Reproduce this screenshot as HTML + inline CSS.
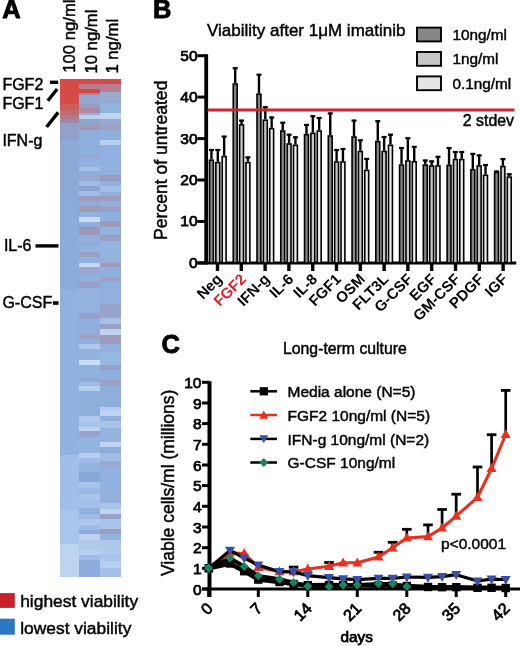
<!DOCTYPE html>
<html><head><meta charset="utf-8"><style>
html,body{margin:0;padding:0;background:#fff;}
body{width:520px;height:646px;overflow:hidden;}
svg{display:block;font-family:"Liberation Sans", sans-serif;filter:blur(0.4px);}
text{stroke-width:0.45px;}
text.pl{stroke-width:0.9px !important;}
text.tk{stroke-width:0.75px;}
</style></head><body>
<svg width="520" height="646" viewBox="0 0 520 646" stroke-width="0">
<rect width="520" height="646" fill="#fff"/>
<text x="2.3" y="18.4" font-size="25.5" font-weight="bold" style="stroke-width:0" stroke="#000" class="pl">A</text>
<text transform="translate(75.3,72.8) rotate(-90)" font-size="16.7" stroke="#000">100 ng/ml</text>
<text transform="translate(96.9,73.6) rotate(-90)" font-size="16.7" stroke="#000">10 ng/ml</text>
<text transform="translate(118.0,73.6) rotate(-90)" font-size="16.7" stroke="#000">1 ng/ml</text>
<g shape-rendering="crispEdges">
<rect x="60.3" y="79.3" width="19.00" height="25.10" fill="#d64a48"/>
<rect x="60.3" y="104.4" width="19.00" height="5.60" fill="#cc5c5e"/>
<rect x="60.3" y="110" width="19.00" height="5.30" fill="#c06a72"/>
<rect x="60.3" y="115.3" width="19.00" height="3.70" fill="#b07a8c"/>
<rect x="60.3" y="119" width="19.00" height="4.00" fill="#a088a4"/>
<rect x="60.3" y="123" width="19.00" height="17.00" fill="#94a0c8"/>
<rect x="60.3" y="140" width="19.00" height="60.00" fill="#8ea8d8"/>
<rect x="60.3" y="200" width="19.00" height="90.00" fill="#8cacdc"/>
<rect x="60.3" y="290" width="19.00" height="165.00" fill="#91b1e1"/>
<rect x="60.3" y="455" width="19.00" height="55.00" fill="#a0bee8"/>
<rect x="60.3" y="510" width="19.00" height="33.60" fill="#a8c6ec"/>
<rect x="60.3" y="543.6" width="19.00" height="33.10" fill="#bcd4f0"/>
<rect x="79.3" y="79.3" width="20.70" height="4.20" fill="#d44a4a"/>
<rect x="79.3" y="83.5" width="20.70" height="5.50" fill="#b87c8a"/>
<rect x="79.3" y="89" width="20.70" height="3.80" fill="#d04848"/>
<rect x="79.3" y="92.8" width="20.70" height="2.20" fill="#b08494"/>
<rect x="79.3" y="95" width="20.70" height="9.40" fill="#93a8d4"/>
<rect x="79.3" y="104.4" width="20.70" height="3.90" fill="#a09bbc"/>
<rect x="79.3" y="108.3" width="20.70" height="4.70" fill="#af88a3"/>
<rect x="79.3" y="113" width="20.70" height="1.50" fill="#9aaed8"/>
<rect x="79.3" y="114.5" width="20.70" height="4.60" fill="#bccfec"/>
<rect x="79.3" y="119.1" width="20.70" height="5.50" fill="#90a4cc"/>
<rect x="79.3" y="124.6" width="20.70" height="5.40" fill="#a596b2"/>
<rect x="79.3" y="130" width="20.70" height="4.00" fill="#96aad6"/>
<rect x="79.3" y="134" width="20.70" height="20.50" fill="#8eb0de"/>
<rect x="79.3" y="154.5" width="20.70" height="4.00" fill="#98a8d0"/>
<rect x="79.3" y="158.5" width="20.70" height="8.10" fill="#90b2e0"/>
<rect x="79.3" y="166.6" width="20.70" height="4.00" fill="#a0c0e8"/>
<rect x="79.3" y="170.6" width="20.70" height="5.40" fill="#8cacdc"/>
<rect x="79.3" y="176" width="20.70" height="4.80" fill="#96a8d0"/>
<rect x="79.3" y="180.8" width="20.70" height="4.70" fill="#a0bce6"/>
<rect x="79.3" y="185.5" width="20.70" height="5.50" fill="#8ca6d4"/>
<rect x="79.3" y="191" width="20.70" height="5.30" fill="#a0bce6"/>
<rect x="79.3" y="196.3" width="20.70" height="4.70" fill="#a09bbc"/>
<rect x="79.3" y="201" width="20.70" height="5.40" fill="#90acdc"/>
<rect x="79.3" y="206.4" width="20.70" height="5.40" fill="#a09bb4"/>
<rect x="79.3" y="211.8" width="20.70" height="4.70" fill="#94b0de"/>
<rect x="79.3" y="216.5" width="20.70" height="5.40" fill="#c8dcf4"/>
<rect x="79.3" y="221.9" width="20.70" height="5.40" fill="#90acd8"/>
<rect x="79.3" y="227.3" width="20.70" height="7.70" fill="#9d98b9"/>
<rect x="79.3" y="235" width="20.70" height="6.20" fill="#98b0dc"/>
<rect x="79.3" y="241.2" width="20.70" height="4.70" fill="#8cacdc"/>
<rect x="79.3" y="245.9" width="20.70" height="6.10" fill="#94b4e0"/>
<rect x="79.3" y="252" width="20.70" height="4.70" fill="#9ba0c6"/>
<rect x="79.3" y="256.7" width="20.70" height="6.20" fill="#90b0e0"/>
<rect x="79.3" y="262.9" width="20.70" height="4.40" fill="#c4d8f2"/>
<rect x="79.3" y="267.3" width="20.70" height="7.00" fill="#98a8d0"/>
<rect x="79.3" y="274.3" width="20.70" height="7.70" fill="#90b0e0"/>
<rect x="79.3" y="282" width="20.70" height="6.20" fill="#98a0c8"/>
<rect x="79.3" y="288.2" width="20.70" height="24.80" fill="#92b2e0"/>
<rect x="79.3" y="313" width="20.70" height="6.20" fill="#98a0c8"/>
<rect x="79.3" y="319.2" width="20.70" height="10.80" fill="#8cb0e0"/>
<rect x="79.3" y="330" width="20.70" height="4.70" fill="#98acd8"/>
<rect x="79.3" y="334.7" width="20.70" height="4.60" fill="#a0a0c0"/>
<rect x="79.3" y="339.3" width="20.70" height="4.70" fill="#90b0e0"/>
<rect x="79.3" y="344" width="20.70" height="5.40" fill="#b0c8ec"/>
<rect x="79.3" y="349.4" width="20.70" height="10.10" fill="#92b2de"/>
<rect x="79.3" y="359.5" width="20.70" height="5.10" fill="#c8dcf4"/>
<rect x="79.3" y="364.6" width="20.70" height="12.40" fill="#92b2de"/>
<rect x="79.3" y="377" width="20.70" height="4.70" fill="#8cacd8"/>
<rect x="79.3" y="381.7" width="20.70" height="3.80" fill="#a0bce6"/>
<rect x="79.3" y="385.5" width="20.70" height="5.50" fill="#b8d0f0"/>
<rect x="79.3" y="391" width="20.70" height="24.80" fill="#8eaedc"/>
<rect x="79.3" y="415.8" width="20.70" height="6.20" fill="#b0c8ec"/>
<rect x="79.3" y="422" width="20.70" height="4.60" fill="#a8c4ea"/>
<rect x="79.3" y="426.6" width="20.70" height="4.60" fill="#bcd4f2"/>
<rect x="79.3" y="431.2" width="20.70" height="5.50" fill="#98a4cc"/>
<rect x="79.3" y="436.7" width="20.70" height="16.30" fill="#94b4e0"/>
<rect x="79.3" y="453" width="20.70" height="5.00" fill="#b8d0f0"/>
<rect x="79.3" y="458" width="20.70" height="4.70" fill="#a0bce6"/>
<rect x="79.3" y="462.7" width="20.70" height="9.30" fill="#94b4e0"/>
<rect x="79.3" y="472" width="20.70" height="10.00" fill="#88a8d8"/>
<rect x="79.3" y="482" width="20.70" height="6.30" fill="#a8c4ea"/>
<rect x="79.3" y="488.3" width="20.70" height="5.40" fill="#9cb8e4"/>
<rect x="79.3" y="493.7" width="20.70" height="6.20" fill="#a8c4ea"/>
<rect x="79.3" y="499.9" width="20.70" height="8.50" fill="#a4c0e8"/>
<rect x="79.3" y="508.4" width="20.70" height="5.50" fill="#90b0dc"/>
<rect x="79.3" y="513.9" width="20.70" height="4.80" fill="#a0bce6"/>
<rect x="79.3" y="518.7" width="20.70" height="6.10" fill="#b0c8ec"/>
<rect x="79.3" y="524.8" width="20.70" height="4.70" fill="#a0bce6"/>
<rect x="79.3" y="529.5" width="20.70" height="4.10" fill="#8cacdc"/>
<rect x="79.3" y="533.6" width="20.70" height="6.00" fill="#bcd4f0"/>
<rect x="79.3" y="539.6" width="20.70" height="10.80" fill="#b0c8ec"/>
<rect x="79.3" y="550.4" width="20.70" height="4.60" fill="#b8d0f0"/>
<rect x="79.3" y="555" width="20.70" height="4.80" fill="#a0bce6"/>
<rect x="79.3" y="559.8" width="20.70" height="16.90" fill="#8cacdc"/>
<rect x="100.0" y="79.3" width="20.90" height="4.20" fill="#d44a4a"/>
<rect x="100.0" y="83.5" width="20.90" height="8.50" fill="#b8808e"/>
<rect x="100.0" y="92" width="20.90" height="10.90" fill="#98aacc"/>
<rect x="100.0" y="102.9" width="20.90" height="10.10" fill="#90b4e0"/>
<rect x="100.0" y="113" width="20.90" height="6.10" fill="#c0d4ef"/>
<rect x="100.0" y="119.1" width="20.90" height="5.90" fill="#94a8d0"/>
<rect x="100.0" y="125" width="20.90" height="5.00" fill="#a0a0c3"/>
<rect x="100.0" y="130" width="20.90" height="10.00" fill="#8eb0dc"/>
<rect x="100.0" y="140" width="20.90" height="4.70" fill="#b8d0ee"/>
<rect x="100.0" y="144.7" width="20.90" height="29.90" fill="#90b0e0"/>
<rect x="100.0" y="174.6" width="20.90" height="6.20" fill="#9b9bc1"/>
<rect x="100.0" y="180.8" width="20.90" height="4.70" fill="#90b0dc"/>
<rect x="100.0" y="185.5" width="20.90" height="6.20" fill="#a0c0ea"/>
<rect x="100.0" y="191.7" width="20.90" height="4.60" fill="#94b0dc"/>
<rect x="100.0" y="196.3" width="20.90" height="4.70" fill="#a09bbc"/>
<rect x="100.0" y="201" width="20.90" height="5.40" fill="#94b0dc"/>
<rect x="100.0" y="206.4" width="20.90" height="5.40" fill="#9ba0c6"/>
<rect x="100.0" y="211.8" width="20.90" height="9.20" fill="#90b0e0"/>
<rect x="100.0" y="221" width="20.90" height="5.50" fill="#9b9bbc"/>
<rect x="100.0" y="226.5" width="20.90" height="8.50" fill="#94b4e0"/>
<rect x="100.0" y="235" width="20.90" height="6.20" fill="#9ba0c6"/>
<rect x="100.0" y="241.2" width="20.90" height="15.50" fill="#94b4e0"/>
<rect x="100.0" y="256.7" width="20.90" height="6.20" fill="#98b0d8"/>
<rect x="100.0" y="262.9" width="20.90" height="4.40" fill="#a09bbc"/>
<rect x="100.0" y="267.3" width="20.90" height="10.10" fill="#90b0e0"/>
<rect x="100.0" y="277.4" width="20.90" height="4.60" fill="#a0a0c4"/>
<rect x="100.0" y="282" width="20.90" height="21.70" fill="#90b0e0"/>
<rect x="100.0" y="303.7" width="20.90" height="13.90" fill="#98a4cc"/>
<rect x="100.0" y="317.6" width="20.90" height="6.20" fill="#a8c0e8"/>
<rect x="100.0" y="323.8" width="20.90" height="5.50" fill="#9ba0c6"/>
<rect x="100.0" y="329.3" width="20.90" height="5.40" fill="#c0d4f0"/>
<rect x="100.0" y="334.7" width="20.90" height="9.30" fill="#a09bbc"/>
<rect x="100.0" y="344" width="20.90" height="7.70" fill="#94b0dc"/>
<rect x="100.0" y="351.7" width="20.90" height="13.70" fill="#98b8e4"/>
<rect x="100.0" y="365.4" width="20.90" height="4.60" fill="#98a0c8"/>
<rect x="100.0" y="370" width="20.90" height="10.00" fill="#90b0e0"/>
<rect x="100.0" y="380" width="20.90" height="5.50" fill="#9ca0c4"/>
<rect x="100.0" y="385.5" width="20.90" height="21.00" fill="#8eaedc"/>
<rect x="100.0" y="406.5" width="20.90" height="4.50" fill="#b4ccee"/>
<rect x="100.0" y="411" width="20.90" height="4.80" fill="#c0d4f0"/>
<rect x="100.0" y="415.8" width="20.90" height="5.40" fill="#90b0e0"/>
<rect x="100.0" y="421.2" width="20.90" height="6.80" fill="#a8c4ea"/>
<rect x="100.0" y="428" width="20.90" height="14.00" fill="#94b4e0"/>
<rect x="100.0" y="442" width="20.90" height="4.70" fill="#c0d4f0"/>
<rect x="100.0" y="446.7" width="20.90" height="6.20" fill="#8cacdc"/>
<rect x="100.0" y="452.9" width="20.90" height="8.10" fill="#a0bce6"/>
<rect x="100.0" y="461" width="20.90" height="6.40" fill="#98a8d0"/>
<rect x="100.0" y="467.4" width="20.90" height="20.10" fill="#90b0e0"/>
<rect x="100.0" y="487.5" width="20.90" height="15.50" fill="#94b0dc"/>
<rect x="100.0" y="503" width="20.90" height="6.20" fill="#a8c4ea"/>
<rect x="100.0" y="509.2" width="20.90" height="4.70" fill="#c0d4f0"/>
<rect x="100.0" y="513.9" width="20.90" height="4.80" fill="#98a0c8"/>
<rect x="100.0" y="518.7" width="20.90" height="10.10" fill="#a8c4ea"/>
<rect x="100.0" y="528.8" width="20.90" height="5.40" fill="#98a0c4"/>
<rect x="100.0" y="534.2" width="20.90" height="5.40" fill="#94b4e0"/>
<rect x="100.0" y="539.6" width="20.90" height="14.80" fill="#b0c8ec"/>
<rect x="100.0" y="554.4" width="20.90" height="6.70" fill="#a8c4ea"/>
<rect x="100.0" y="561.1" width="20.90" height="6.80" fill="#b8d0f0"/>
<rect x="100.0" y="567.9" width="20.90" height="8.80" fill="#a4c0e8"/>
</g>
<text x="2.4" y="90.2" font-size="16" stroke="#000">FGF2</text>
<text x="2.4" y="108.9" font-size="16" stroke="#000">FGF1</text>
<text x="2.4" y="145.6" font-size="16" stroke="#000">IFN-g</text>
<text x="3.9" y="251.2" font-size="16" stroke="#000">IL-6</text>
<text x="2.4" y="308.3" font-size="16" stroke="#000">G-CSF</text>
<g stroke="#000" stroke-width="3.4" stroke-linecap="butt">
<line x1="50" y1="82.3" x2="58.2" y2="82.3"/>
<line x1="47.8" y1="100.8" x2="57.2" y2="89"/>
<line x1="46.6" y1="127" x2="58.2" y2="112.4"/>
<line x1="35.5" y1="245.9" x2="58.5" y2="245.9"/>
<line x1="52.9" y1="303" x2="58.5" y2="303" stroke-width="3.6"/>
</g>
<rect x="0" y="593.1" width="14.8" height="14.8" fill="#c8202c"/>
<rect x="0" y="618.7" width="14.8" height="16" fill="#2a78c2"/>
<text x="20.2" y="607.1" font-size="17.4" stroke="#000">highest viability</text>
<text x="20.2" y="633.5" font-size="17.4" stroke="#000">lowest viability</text>
<text x="153.0" y="18.0" font-size="25.5" font-weight="bold" style="stroke-width:0" stroke="#000" class="pl">B</text>
<text x="207.0" y="35.6" font-size="17" stroke="#000">Viability after 1μM imatinib</text>
<rect x="417" y="27.6" width="24" height="13.8" fill="#878787" stroke="#000" stroke-width="1.9"/>
<text x="452.4" y="39.8" font-size="15.3" stroke="#000">10ng/ml</text>
<rect x="417" y="52.0" width="24" height="13.8" fill="#c6c6c6" stroke="#000" stroke-width="1.9"/>
<text x="452.4" y="64.4" font-size="15.3" stroke="#000">1ng/ml</text>
<rect x="417" y="76.4" width="24" height="13.8" fill="#e4e4e2" stroke="#000" stroke-width="1.9"/>
<text x="452.4" y="89.0" font-size="15.3" stroke="#000">0.1ng/ml</text>
<g stroke="#000" stroke-width="3">
<line x1="206.2" y1="54.2" x2="206.2" y2="264.4" stroke-width="3.8"/>
<line x1="197.3" y1="262.9" x2="206" y2="262.9"/>
<line x1="197.3" y1="221.5" x2="206" y2="221.5"/>
<line x1="197.3" y1="180.0" x2="206" y2="180.0"/>
<line x1="197.3" y1="138.6" x2="206" y2="138.6"/>
<line x1="197.3" y1="97.1" x2="206" y2="97.1"/>
<line x1="197.3" y1="55.7" x2="206" y2="55.7"/>
<line x1="197.3" y1="262.9" x2="516.3" y2="262.9"/>
<line x1="217.5" y1="262.9" x2="217.5" y2="271" stroke-width="3.4"/>
<line x1="241.3" y1="262.9" x2="241.3" y2="271" stroke-width="3.4"/>
<line x1="265.1" y1="262.9" x2="265.1" y2="271" stroke-width="3.4"/>
<line x1="288.9" y1="262.9" x2="288.9" y2="271" stroke-width="3.4"/>
<line x1="312.7" y1="262.9" x2="312.7" y2="271" stroke-width="3.4"/>
<line x1="336.5" y1="262.9" x2="336.5" y2="271" stroke-width="3.4"/>
<line x1="360.3" y1="262.9" x2="360.3" y2="271" stroke-width="3.4"/>
<line x1="384.1" y1="262.9" x2="384.1" y2="271" stroke-width="3.4"/>
<line x1="407.9" y1="262.9" x2="407.9" y2="271" stroke-width="3.4"/>
<line x1="431.7" y1="262.9" x2="431.7" y2="271" stroke-width="3.4"/>
<line x1="455.5" y1="262.9" x2="455.5" y2="271" stroke-width="3.4"/>
<line x1="479.3" y1="262.9" x2="479.3" y2="271" stroke-width="3.4"/>
<line x1="503.1" y1="262.9" x2="503.1" y2="271" stroke-width="3.4"/>
</g>
<text x="197.6" y="267.8" font-size="15.5" text-anchor="end" stroke="#000" class="tk">0</text>
<text x="197.6" y="226.4" font-size="15.5" text-anchor="end" stroke="#000" class="tk">10</text>
<text x="197.6" y="184.9" font-size="15.5" text-anchor="end" stroke="#000" class="tk">20</text>
<text x="197.6" y="143.5" font-size="15.5" text-anchor="end" stroke="#000" class="tk">30</text>
<text x="197.6" y="102.0" font-size="15.5" text-anchor="end" stroke="#000" class="tk">40</text>
<text x="197.6" y="60.6" font-size="15.5" text-anchor="end" stroke="#000" class="tk">50</text>
<text transform="translate(166.5,240.0) rotate(-90)" font-size="17.6" stroke="#000">Percent of untreated</text>
<g stroke="#000" stroke-width="1.6">
<line x1="211.45" y1="159.4" x2="211.45" y2="149.2" stroke-width="2.4"/>
<line x1="208.95" y1="150.0" x2="213.95" y2="150.0" stroke-width="2.2"/>
<rect x="209.50" y="160.2" width="3.90" height="102.7" fill="#858585"/>
<line x1="217.80" y1="161.8" x2="217.80" y2="149.2" stroke-width="2.4"/>
<line x1="215.30" y1="150.0" x2="220.30" y2="150.0" stroke-width="2.2"/>
<rect x="215.85" y="162.6" width="3.90" height="100.3" fill="#c8c8c8"/>
<line x1="224.15" y1="155.7" x2="224.15" y2="135.8" stroke-width="2.4"/>
<line x1="221.65" y1="136.6" x2="226.65" y2="136.6" stroke-width="2.2"/>
<rect x="222.20" y="156.5" width="3.90" height="106.4" fill="#ededed"/>
<line x1="235.21" y1="83.2" x2="235.21" y2="67.4" stroke-width="2.4"/>
<line x1="232.71" y1="68.2" x2="237.71" y2="68.2" stroke-width="2.2"/>
<rect x="233.26" y="84.0" width="3.90" height="178.9" fill="#858585"/>
<line x1="241.56" y1="124.1" x2="241.56" y2="119.8" stroke-width="2.4"/>
<line x1="239.06" y1="120.6" x2="244.06" y2="120.6" stroke-width="2.2"/>
<rect x="239.61" y="124.9" width="3.90" height="138.0" fill="#c8c8c8"/>
<line x1="247.91" y1="161.8" x2="247.91" y2="156.6" stroke-width="2.4"/>
<line x1="245.41" y1="157.4" x2="250.41" y2="157.4" stroke-width="2.2"/>
<rect x="245.96" y="162.6" width="3.90" height="100.3" fill="#ededed"/>
<line x1="258.97" y1="93.4" x2="258.97" y2="73.9" stroke-width="2.4"/>
<line x1="256.47" y1="74.7" x2="261.47" y2="74.7" stroke-width="2.2"/>
<rect x="257.02" y="94.2" width="3.90" height="168.7" fill="#858585"/>
<line x1="265.32" y1="119.4" x2="265.32" y2="106.4" stroke-width="2.4"/>
<line x1="262.82" y1="107.2" x2="267.82" y2="107.2" stroke-width="2.2"/>
<rect x="263.37" y="120.2" width="3.90" height="142.7" fill="#c8c8c8"/>
<line x1="271.67" y1="127.8" x2="271.67" y2="116.7" stroke-width="2.4"/>
<line x1="269.17" y1="117.5" x2="274.17" y2="117.5" stroke-width="2.2"/>
<rect x="269.72" y="128.6" width="3.90" height="134.3" fill="#ededed"/>
<line x1="282.73" y1="130.2" x2="282.73" y2="121.9" stroke-width="2.4"/>
<line x1="280.23" y1="122.7" x2="285.23" y2="122.7" stroke-width="2.2"/>
<rect x="280.78" y="131.0" width="3.90" height="131.9" fill="#858585"/>
<line x1="289.08" y1="143.2" x2="289.08" y2="133.9" stroke-width="2.4"/>
<line x1="286.58" y1="134.7" x2="291.58" y2="134.7" stroke-width="2.2"/>
<rect x="287.13" y="144.0" width="3.90" height="118.9" fill="#c8c8c8"/>
<line x1="295.43" y1="144.5" x2="295.43" y2="136.5" stroke-width="2.4"/>
<line x1="292.93" y1="137.3" x2="297.93" y2="137.3" stroke-width="2.2"/>
<rect x="293.48" y="145.3" width="3.90" height="117.6" fill="#ededed"/>
<line x1="306.49" y1="133.9" x2="306.49" y2="124.1" stroke-width="2.4"/>
<line x1="303.99" y1="124.9" x2="308.99" y2="124.9" stroke-width="2.2"/>
<rect x="304.54" y="134.7" width="3.90" height="128.2" fill="#858585"/>
<line x1="312.84" y1="132.5" x2="312.84" y2="115.4" stroke-width="2.4"/>
<line x1="310.34" y1="116.2" x2="315.34" y2="116.2" stroke-width="2.2"/>
<rect x="310.89" y="133.3" width="3.90" height="129.6" fill="#c8c8c8"/>
<line x1="319.19" y1="130.2" x2="319.19" y2="117.2" stroke-width="2.4"/>
<line x1="316.69" y1="118.0" x2="321.69" y2="118.0" stroke-width="2.2"/>
<rect x="317.24" y="131.0" width="3.90" height="131.9" fill="#ededed"/>
<line x1="330.25" y1="135.2" x2="330.25" y2="112.6" stroke-width="2.4"/>
<line x1="327.75" y1="113.4" x2="332.75" y2="113.4" stroke-width="2.2"/>
<rect x="328.30" y="136.0" width="3.90" height="126.9" fill="#858585"/>
<line x1="336.60" y1="161.2" x2="336.60" y2="149.2" stroke-width="2.4"/>
<line x1="334.10" y1="150.0" x2="339.10" y2="150.0" stroke-width="2.2"/>
<rect x="334.65" y="162.0" width="3.90" height="100.9" fill="#c8c8c8"/>
<line x1="342.95" y1="161.2" x2="342.95" y2="148.2" stroke-width="2.4"/>
<line x1="340.45" y1="149.0" x2="345.45" y2="149.0" stroke-width="2.2"/>
<rect x="341.00" y="162.0" width="3.90" height="100.9" fill="#ededed"/>
<line x1="354.01" y1="136.2" x2="354.01" y2="119.8" stroke-width="2.4"/>
<line x1="351.51" y1="120.6" x2="356.51" y2="120.6" stroke-width="2.2"/>
<rect x="352.06" y="137.0" width="3.90" height="125.9" fill="#858585"/>
<line x1="360.36" y1="150.7" x2="360.36" y2="139.5" stroke-width="2.4"/>
<line x1="357.86" y1="140.3" x2="362.86" y2="140.3" stroke-width="2.2"/>
<rect x="358.41" y="151.5" width="3.90" height="111.4" fill="#c8c8c8"/>
<line x1="366.71" y1="169.6" x2="366.71" y2="158.1" stroke-width="2.4"/>
<line x1="364.21" y1="158.9" x2="369.21" y2="158.9" stroke-width="2.2"/>
<rect x="364.76" y="170.4" width="3.90" height="92.5" fill="#ededed"/>
<line x1="377.77" y1="140.8" x2="377.77" y2="120.4" stroke-width="2.4"/>
<line x1="375.27" y1="121.2" x2="380.27" y2="121.2" stroke-width="2.2"/>
<rect x="375.82" y="141.6" width="3.90" height="121.3" fill="#858585"/>
<line x1="384.12" y1="150.7" x2="384.12" y2="136.2" stroke-width="2.4"/>
<line x1="381.62" y1="137.0" x2="386.62" y2="137.0" stroke-width="2.2"/>
<rect x="382.17" y="151.5" width="3.90" height="111.4" fill="#c8c8c8"/>
<line x1="390.47" y1="144.5" x2="390.47" y2="133.9" stroke-width="2.4"/>
<line x1="387.97" y1="134.7" x2="392.97" y2="134.7" stroke-width="2.2"/>
<rect x="388.52" y="145.3" width="3.90" height="117.6" fill="#ededed"/>
<line x1="401.53" y1="164.3" x2="401.53" y2="147.2" stroke-width="2.4"/>
<line x1="399.03" y1="148.0" x2="404.03" y2="148.0" stroke-width="2.2"/>
<rect x="399.58" y="165.1" width="3.90" height="97.8" fill="#858585"/>
<line x1="407.88" y1="160.2" x2="407.88" y2="137.4" stroke-width="2.4"/>
<line x1="405.38" y1="138.2" x2="410.38" y2="138.2" stroke-width="2.2"/>
<rect x="405.93" y="161.0" width="3.90" height="101.9" fill="#c8c8c8"/>
<line x1="414.23" y1="161.0" x2="414.23" y2="146.1" stroke-width="2.4"/>
<line x1="411.73" y1="146.9" x2="416.73" y2="146.9" stroke-width="2.2"/>
<rect x="412.28" y="161.8" width="3.90" height="101.1" fill="#ededed"/>
<line x1="425.29" y1="164.3" x2="425.29" y2="159.7" stroke-width="2.4"/>
<line x1="422.79" y1="160.5" x2="427.79" y2="160.5" stroke-width="2.2"/>
<rect x="423.34" y="165.1" width="3.90" height="97.8" fill="#858585"/>
<line x1="431.64" y1="165.2" x2="431.64" y2="160.6" stroke-width="2.4"/>
<line x1="429.14" y1="161.4" x2="434.14" y2="161.4" stroke-width="2.2"/>
<rect x="429.69" y="166.0" width="3.90" height="96.9" fill="#c8c8c8"/>
<line x1="437.99" y1="165.2" x2="437.99" y2="156.0" stroke-width="2.4"/>
<line x1="435.49" y1="156.8" x2="440.49" y2="156.8" stroke-width="2.2"/>
<rect x="436.04" y="166.0" width="3.90" height="96.9" fill="#ededed"/>
<line x1="449.05" y1="164.6" x2="449.05" y2="147.2" stroke-width="2.4"/>
<line x1="446.55" y1="148.0" x2="451.55" y2="148.0" stroke-width="2.2"/>
<rect x="447.10" y="165.4" width="3.90" height="97.5" fill="#858585"/>
<line x1="455.40" y1="158.7" x2="455.40" y2="151.2" stroke-width="2.4"/>
<line x1="452.90" y1="152.0" x2="457.90" y2="152.0" stroke-width="2.2"/>
<rect x="453.45" y="159.5" width="3.90" height="103.4" fill="#c8c8c8"/>
<line x1="461.75" y1="158.7" x2="461.75" y2="151.2" stroke-width="2.4"/>
<line x1="459.25" y1="152.0" x2="464.25" y2="152.0" stroke-width="2.2"/>
<rect x="459.80" y="159.5" width="3.90" height="103.4" fill="#ededed"/>
<line x1="472.81" y1="168.9" x2="472.81" y2="153.1" stroke-width="2.4"/>
<line x1="470.31" y1="153.9" x2="475.31" y2="153.9" stroke-width="2.2"/>
<rect x="470.86" y="169.7" width="3.90" height="93.2" fill="#858585"/>
<line x1="479.16" y1="165.2" x2="479.16" y2="154.6" stroke-width="2.4"/>
<line x1="476.66" y1="155.4" x2="481.66" y2="155.4" stroke-width="2.2"/>
<rect x="477.21" y="166.0" width="3.90" height="96.9" fill="#c8c8c8"/>
<line x1="485.51" y1="174.5" x2="485.51" y2="164.2" stroke-width="2.4"/>
<line x1="483.01" y1="165.0" x2="488.01" y2="165.0" stroke-width="2.2"/>
<rect x="483.56" y="175.3" width="3.90" height="87.6" fill="#ededed"/>
<line x1="496.57" y1="171.7" x2="496.57" y2="170.7" stroke-width="2.4"/>
<line x1="494.07" y1="171.5" x2="499.07" y2="171.5" stroke-width="2.2"/>
<rect x="494.62" y="172.5" width="3.90" height="90.4" fill="#858585"/>
<line x1="502.92" y1="165.7" x2="502.92" y2="158.3" stroke-width="2.4"/>
<line x1="500.42" y1="159.1" x2="505.42" y2="159.1" stroke-width="2.2"/>
<rect x="500.97" y="166.5" width="3.90" height="96.4" fill="#c8c8c8"/>
<line x1="509.27" y1="176.3" x2="509.27" y2="173.5" stroke-width="2.4"/>
<line x1="506.77" y1="174.3" x2="511.77" y2="174.3" stroke-width="2.2"/>
<rect x="507.32" y="177.1" width="3.90" height="85.8" fill="#ededed"/>
</g>
<line x1="207.5" y1="109.9" x2="514.5" y2="109.9" stroke="#d8202a" stroke-width="3"/>
<text x="462.8" y="126.4" font-size="15.9" stroke="#000">2 stdev</text>
<text transform="translate(223.0,280.0) rotate(-45)" font-size="15" font-weight="bold" style="stroke-width:0" text-anchor="end" stroke="#000">Neg</text>
<text transform="translate(246.8,280.0) rotate(-45)" font-size="15" font-weight="bold" style="stroke-width:0" text-anchor="end" fill="#d8202a" stroke="#d8202a">FGF2</text>
<text transform="translate(270.6,280.0) rotate(-45)" font-size="15" font-weight="bold" style="stroke-width:0" text-anchor="end" stroke="#000">IFN-g</text>
<text transform="translate(294.4,280.0) rotate(-45)" font-size="15" font-weight="bold" style="stroke-width:0" text-anchor="end" stroke="#000">IL-6</text>
<text transform="translate(318.2,280.0) rotate(-45)" font-size="15" font-weight="bold" style="stroke-width:0" text-anchor="end" stroke="#000">IL-8</text>
<text transform="translate(342.0,280.0) rotate(-45)" font-size="15" font-weight="bold" style="stroke-width:0" text-anchor="end" stroke="#000">FGF1</text>
<text transform="translate(365.8,280.0) rotate(-45)" font-size="15" font-weight="bold" style="stroke-width:0" text-anchor="end" stroke="#000">OSM</text>
<text transform="translate(389.6,280.0) rotate(-45)" font-size="15" font-weight="bold" style="stroke-width:0" text-anchor="end" stroke="#000">FLT3L</text>
<text transform="translate(413.4,280.0) rotate(-45)" font-size="15" font-weight="bold" style="stroke-width:0" text-anchor="end" stroke="#000">G-CSF</text>
<text transform="translate(437.2,280.0) rotate(-45)" font-size="15" font-weight="bold" style="stroke-width:0" text-anchor="end" stroke="#000">EGF</text>
<text transform="translate(461.0,280.0) rotate(-45)" font-size="15" font-weight="bold" style="stroke-width:0" text-anchor="end" stroke="#000">GM-CSF</text>
<text transform="translate(484.8,280.0) rotate(-45)" font-size="15" font-weight="bold" style="stroke-width:0" text-anchor="end" stroke="#000">PDGF</text>
<text transform="translate(508.6,280.0) rotate(-45)" font-size="15" font-weight="bold" style="stroke-width:0" text-anchor="end" stroke="#000">IGF</text>
<text x="161.5" y="352.5" font-size="25.5" font-weight="bold" style="stroke-width:0" stroke="#000" class="pl">C</text>
<text x="283.0" y="354.2" font-size="15.8" stroke="#000">Long-term culture</text>
<g stroke="#000" stroke-width="3">
<line x1="209.5" y1="381.2" x2="209.5" y2="597" stroke-width="4"/>
<line x1="202" y1="589.0" x2="209.5" y2="589.0"/>
<line x1="202" y1="568.3" x2="209.5" y2="568.3"/>
<line x1="202" y1="547.7" x2="209.5" y2="547.7"/>
<line x1="202" y1="527.0" x2="209.5" y2="527.0"/>
<line x1="202" y1="506.3" x2="209.5" y2="506.3"/>
<line x1="202" y1="485.6" x2="209.5" y2="485.6"/>
<line x1="202" y1="465.0" x2="209.5" y2="465.0"/>
<line x1="202" y1="444.3" x2="209.5" y2="444.3"/>
<line x1="202" y1="423.6" x2="209.5" y2="423.6"/>
<line x1="202" y1="403.0" x2="209.5" y2="403.0"/>
<line x1="202" y1="382.3" x2="209.5" y2="382.3"/>
<line x1="202" y1="589.0" x2="520" y2="589.0"/>
<line x1="208.8" y1="589.0" x2="208.8" y2="597"/>
<line x1="258.3" y1="589.0" x2="258.3" y2="597"/>
<line x1="307.8" y1="589.0" x2="307.8" y2="597"/>
<line x1="357.3" y1="589.0" x2="357.3" y2="597"/>
<line x1="406.8" y1="589.0" x2="406.8" y2="597"/>
<line x1="456.2" y1="589.0" x2="456.2" y2="597"/>
<line x1="505.7" y1="589.0" x2="505.7" y2="597"/>
</g>
<text x="201.5" y="594.5" font-size="15.5" text-anchor="end" stroke="#000" class="tk">0</text>
<text x="201.5" y="573.8" font-size="15.5" text-anchor="end" stroke="#000" class="tk">1</text>
<text x="201.5" y="553.2" font-size="15.5" text-anchor="end" stroke="#000" class="tk">2</text>
<text x="201.5" y="532.5" font-size="15.5" text-anchor="end" stroke="#000" class="tk">3</text>
<text x="201.5" y="511.8" font-size="15.5" text-anchor="end" stroke="#000" class="tk">4</text>
<text x="201.5" y="491.1" font-size="15.5" text-anchor="end" stroke="#000" class="tk">5</text>
<text x="201.5" y="470.5" font-size="15.5" text-anchor="end" stroke="#000" class="tk">6</text>
<text x="201.5" y="449.8" font-size="15.5" text-anchor="end" stroke="#000" class="tk">7</text>
<text x="201.5" y="429.1" font-size="15.5" text-anchor="end" stroke="#000" class="tk">8</text>
<text x="201.5" y="408.5" font-size="15.5" text-anchor="end" stroke="#000" class="tk">9</text>
<text x="201.5" y="387.8" font-size="15.5" text-anchor="end" stroke="#000" class="tk">10</text>
<text transform="translate(174.0,576.0) rotate(-90)" font-size="17.5" stroke="#000">Viable cells/ml (millions)</text>
<text transform="translate(213.8,609.5) rotate(-45)" font-size="16" text-anchor="end" stroke="#000" class="tk">0</text>
<text transform="translate(263.3,609.5) rotate(-45)" font-size="16" text-anchor="end" stroke="#000" class="tk">7</text>
<text transform="translate(312.8,609.5) rotate(-45)" font-size="16" text-anchor="end" stroke="#000" class="tk">14</text>
<text transform="translate(362.3,609.5) rotate(-45)" font-size="16" text-anchor="end" stroke="#000" class="tk">21</text>
<text transform="translate(411.8,609.5) rotate(-45)" font-size="16" text-anchor="end" stroke="#000" class="tk">28</text>
<text transform="translate(461.2,609.5) rotate(-45)" font-size="16" text-anchor="end" stroke="#000" class="tk">35</text>
<text transform="translate(510.7,609.5) rotate(-45)" font-size="16" text-anchor="end" stroke="#000" class="tk">42</text>
<text x="340.6" y="642.0" font-size="15.3" stroke="#000" class="tk">days</text>
<text x="441.0" y="548.6" font-size="15.5" stroke="#000">p&lt;0.0001</text>
<g stroke="#000" stroke-width="2.7">
<line x1="293.6" y1="571.7" x2="293.6" y2="566.9"/>
<line x1="288.8" y1="567.1" x2="298.4" y2="567.1" stroke-width="2.8"/>
<line x1="329.0" y1="566.3" x2="329.0" y2="562.3"/>
<line x1="324.2" y1="562.5" x2="333.8" y2="562.5" stroke-width="2.8"/>
<line x1="378.5" y1="557.0" x2="378.5" y2="552.1"/>
<line x1="373.7" y1="552.3" x2="383.3" y2="552.3" stroke-width="2.8"/>
<line x1="392.6" y1="547.8" x2="392.6" y2="542.1"/>
<line x1="387.8" y1="542.3" x2="397.4" y2="542.3" stroke-width="2.8"/>
<line x1="406.8" y1="538.0" x2="406.8" y2="529.1"/>
<line x1="402.0" y1="529.3" x2="411.6" y2="529.3" stroke-width="2.8"/>
<line x1="428.0" y1="536.6" x2="428.0" y2="524.7"/>
<line x1="423.2" y1="524.9" x2="432.8" y2="524.9" stroke-width="2.8"/>
<line x1="442.1" y1="528.0" x2="442.1" y2="509.3"/>
<line x1="437.3" y1="509.5" x2="446.9" y2="509.5" stroke-width="2.8"/>
<line x1="456.2" y1="516.1" x2="456.2" y2="494.0"/>
<line x1="451.4" y1="494.2" x2="461.1" y2="494.2" stroke-width="2.8"/>
<line x1="477.5" y1="497.4" x2="477.5" y2="466.8"/>
<line x1="472.7" y1="467.0" x2="482.3" y2="467.0" stroke-width="2.8"/>
<line x1="491.6" y1="468.5" x2="491.6" y2="434.5"/>
<line x1="486.8" y1="434.7" x2="496.4" y2="434.7" stroke-width="2.8"/>
<line x1="505.7" y1="434.5" x2="505.7" y2="390.2"/>
<line x1="500.9" y1="390.4" x2="510.5" y2="390.4" stroke-width="2.8"/>
</g>
<polyline points="208.8,568.3 230.0,552.7 244.2,553.5 258.3,567.3 279.5,571.7 293.6,571.7 307.8,569.0 329.0,566.3 343.1,562.8 357.3,562.8 378.5,557.0 392.6,547.8 406.8,538.0 428.0,536.6 442.1,528.0 456.2,516.1 477.5,497.4 491.6,468.5 505.7,434.5" fill="none" stroke="#e8301e" stroke-width="3.1" stroke-linejoin="round"/>
<polygon points="208.8,562.9 213.8,571.9 203.8,571.9" fill="#e8301e"/>
<polygon points="230.0,547.3 235.0,556.3 225.0,556.3" fill="#e8301e"/>
<polygon points="244.2,548.1 249.2,557.1 239.2,557.1" fill="#e8301e"/>
<polygon points="258.3,561.9 263.3,570.9 253.3,570.9" fill="#e8301e"/>
<polygon points="279.5,566.3 284.5,575.3 274.5,575.3" fill="#e8301e"/>
<polygon points="293.6,566.3 298.6,575.3 288.6,575.3" fill="#e8301e"/>
<polygon points="307.8,563.6 312.8,572.6 302.8,572.6" fill="#e8301e"/>
<polygon points="329.0,560.9 334.0,569.9 324.0,569.9" fill="#e8301e"/>
<polygon points="343.1,557.4 348.1,566.4 338.1,566.4" fill="#e8301e"/>
<polygon points="357.3,557.4 362.3,566.4 352.3,566.4" fill="#e8301e"/>
<polygon points="378.5,551.6 383.5,560.6 373.5,560.6" fill="#e8301e"/>
<polygon points="392.6,542.4 397.6,551.4 387.6,551.4" fill="#e8301e"/>
<polygon points="406.8,532.6 411.8,541.6 401.8,541.6" fill="#e8301e"/>
<polygon points="428.0,531.2 433.0,540.2 423.0,540.2" fill="#e8301e"/>
<polygon points="442.1,522.6 447.1,531.6 437.1,531.6" fill="#e8301e"/>
<polygon points="456.2,510.7 461.2,519.7 451.2,519.7" fill="#e8301e"/>
<polygon points="477.5,492.0 482.5,501.0 472.5,501.0" fill="#e8301e"/>
<polygon points="491.6,463.1 496.6,472.1 486.6,472.1" fill="#e8301e"/>
<polygon points="505.7,429.1 510.7,438.1 500.7,438.1" fill="#e8301e"/>
<polyline points="208.8,568.3 230.0,563.5 244.2,571.2 258.3,579.6 279.5,582.0 293.6,584.0 307.8,585.2 329.0,585.0 343.1,585.2 357.3,585.2 378.5,585.5 392.6,585.5 406.8,586.0 428.0,587.0 442.1,587.2 456.2,587.2 477.5,587.8 491.6,587.8 505.7,588.0" fill="none" stroke="#000" stroke-width="4.4" stroke-linejoin="round"/>
<rect x="204.6" y="564.1" width="8.4" height="8.4" fill="#000"/>
<rect x="225.8" y="559.3" width="8.4" height="8.4" fill="#000"/>
<rect x="240.0" y="567.0" width="8.4" height="8.4" fill="#000"/>
<rect x="254.1" y="575.4" width="8.4" height="8.4" fill="#000"/>
<rect x="275.3" y="577.8" width="8.4" height="8.4" fill="#000"/>
<rect x="289.4" y="579.8" width="8.4" height="8.4" fill="#000"/>
<rect x="303.6" y="581.0" width="8.4" height="8.4" fill="#000"/>
<rect x="324.8" y="580.8" width="8.4" height="8.4" fill="#000"/>
<rect x="338.9" y="581.0" width="8.4" height="8.4" fill="#000"/>
<rect x="353.1" y="581.0" width="8.4" height="8.4" fill="#000"/>
<rect x="374.3" y="581.3" width="8.4" height="8.4" fill="#000"/>
<rect x="388.4" y="581.3" width="8.4" height="8.4" fill="#000"/>
<rect x="402.6" y="581.8" width="8.4" height="8.4" fill="#000"/>
<rect x="423.8" y="582.8" width="8.4" height="8.4" fill="#000"/>
<rect x="437.9" y="583.0" width="8.4" height="8.4" fill="#000"/>
<rect x="452.1" y="583.0" width="8.4" height="8.4" fill="#000"/>
<rect x="473.3" y="583.6" width="8.4" height="8.4" fill="#000"/>
<rect x="487.4" y="583.6" width="8.4" height="8.4" fill="#000"/>
<rect x="501.5" y="583.8" width="8.4" height="8.4" fill="#000"/>
<polyline points="208.8,568.3 230.0,550.4 244.2,558.0 258.3,565.0 279.5,571.7 293.6,571.9 307.8,575.6 329.0,577.6 343.1,578.8 357.3,579.6 378.5,578.4 392.6,578.4 406.8,577.0 428.0,577.4 442.1,576.7 456.2,574.7 477.5,581.0 491.6,579.1 505.7,579.5" fill="none" stroke="#000" stroke-width="3.2" stroke-linejoin="round"/>
<polygon points="203.8,564.7 213.8,564.7 208.8,573.7" fill="#3a4ea8"/>
<polygon points="225.0,546.8 235.0,546.8 230.0,555.8" fill="#3a4ea8"/>
<polygon points="239.2,554.4 249.2,554.4 244.2,563.4" fill="#3a4ea8"/>
<polygon points="253.3,561.4 263.3,561.4 258.3,570.4" fill="#3a4ea8"/>
<polygon points="274.5,568.1 284.5,568.1 279.5,577.1" fill="#3a4ea8"/>
<polygon points="288.6,568.3 298.6,568.3 293.6,577.3" fill="#3a4ea8"/>
<polygon points="302.8,572.0 312.8,572.0 307.8,581.0" fill="#3a4ea8"/>
<polygon points="324.0,574.0 334.0,574.0 329.0,583.0" fill="#3a4ea8"/>
<polygon points="338.1,575.2 348.1,575.2 343.1,584.2" fill="#3a4ea8"/>
<polygon points="352.3,576.0 362.3,576.0 357.3,585.0" fill="#3a4ea8"/>
<polygon points="373.5,574.8 383.5,574.8 378.5,583.8" fill="#3a4ea8"/>
<polygon points="387.6,574.8 397.6,574.8 392.6,583.8" fill="#3a4ea8"/>
<polygon points="401.8,573.4 411.8,573.4 406.8,582.4" fill="#3a4ea8"/>
<polygon points="423.0,573.8 433.0,573.8 428.0,582.8" fill="#3a4ea8"/>
<polygon points="437.1,573.1 447.1,573.1 442.1,582.1" fill="#3a4ea8"/>
<polygon points="451.2,571.1 461.2,571.1 456.2,580.1" fill="#3a4ea8"/>
<polygon points="472.5,577.4 482.5,577.4 477.5,586.4" fill="#3a4ea8"/>
<polygon points="486.6,575.5 496.6,575.5 491.6,584.5" fill="#3a4ea8"/>
<polygon points="500.7,575.9 510.7,575.9 505.7,584.9" fill="#3a4ea8"/>
<polyline points="208.8,568.3 230.0,558.1 244.2,566.5 258.3,575.8 279.5,579.2 293.6,582.5 307.8,586.2 329.0,586.6 343.1,585.0 357.3,585.0 378.5,583.8 392.6,583.8 406.8,586.5" fill="none" stroke="#000" stroke-width="3.8" stroke-linejoin="round"/>
<polygon points="208.8,563.8 213.3,568.3 208.8,572.8 204.3,568.3" fill="#1a8462"/>
<polygon points="230.0,553.6 234.5,558.1 230.0,562.6 225.5,558.1" fill="#1a8462"/>
<polygon points="244.2,562.0 248.7,566.5 244.2,571.0 239.7,566.5" fill="#1a8462"/>
<polygon points="258.3,571.3 262.8,575.8 258.3,580.3 253.8,575.8" fill="#1a8462"/>
<polygon points="279.5,574.7 284.0,579.2 279.5,583.7 275.0,579.2" fill="#1a8462"/>
<polygon points="293.6,578.0 298.1,582.5 293.6,587.0 289.1,582.5" fill="#1a8462"/>
<polygon points="307.8,581.7 312.3,586.2 307.8,590.7 303.3,586.2" fill="#1a8462"/>
<polygon points="329.0,582.1 333.5,586.6 329.0,591.1 324.5,586.6" fill="#1a8462"/>
<polygon points="343.1,580.5 347.6,585.0 343.1,589.5 338.6,585.0" fill="#1a8462"/>
<polygon points="357.3,580.5 361.8,585.0 357.3,589.5 352.8,585.0" fill="#1a8462"/>
<polygon points="378.5,579.3 383.0,583.8 378.5,588.3 374.0,583.8" fill="#1a8462"/>
<polygon points="392.6,579.3 397.1,583.8 392.6,588.3 388.1,583.8" fill="#1a8462"/>
<polygon points="406.8,582.0 411.3,586.5 406.8,591.0 402.3,586.5" fill="#1a8462"/>
<line x1="250.3" y1="391.3" x2="277" y2="391.3" stroke="#000" stroke-width="2.5"/>
<rect x="259.7" y="387.2" width="8.2" height="8.2" fill="#000"/>
<text x="287.5" y="397.1" font-size="15.5" stroke="#000">Media alone (N=5)</text>
<line x1="250.3" y1="415.0" x2="277" y2="415.0" stroke="#e8301e" stroke-width="2.5"/>
<polygon points="263.8,410.6 268.3,418.7 259.3,418.7" fill="#e8301e"/>
<text x="287.5" y="420.8" font-size="15.5" stroke="#000">FGF2 10ng/ml (N=5)</text>
<line x1="250.3" y1="438.9" x2="277" y2="438.9" stroke="#000" stroke-width="2.5"/>
<polygon points="259.3,435.2 268.3,435.2 263.8,443.3" fill="#3a4ea8"/>
<text x="287.5" y="444.7" font-size="15.5" stroke="#000">IFN-g 10ng/ml (N=2)</text>
<line x1="250.3" y1="462.5" x2="277" y2="462.5" stroke="#000" stroke-width="2.5"/>
<polygon points="263.8,458.0 268.3,462.5 263.8,467.0 259.3,462.5" fill="#1a8462"/>
<text x="287.5" y="468.3" font-size="15.5" stroke="#000">G-CSF 10ng/ml</text>
</svg>
</body></html>
